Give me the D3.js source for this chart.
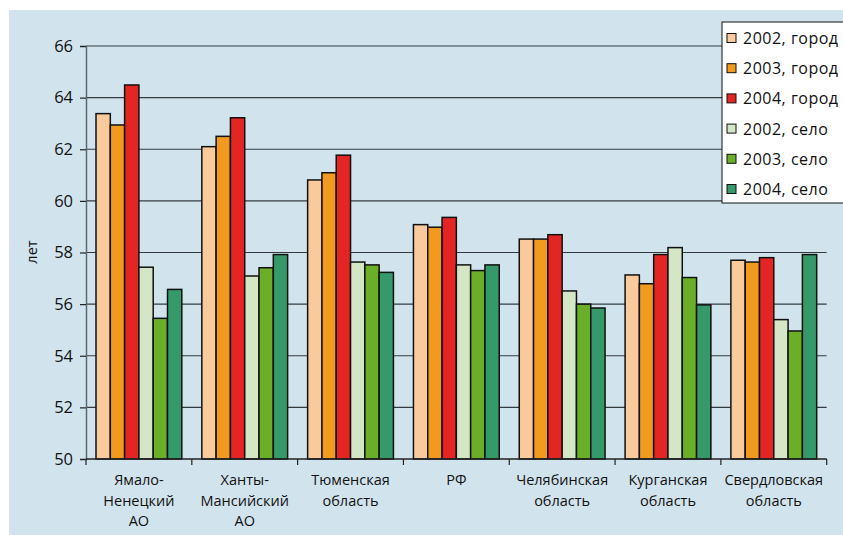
<!DOCTYPE html>
<html>
<head>
<meta charset="utf-8">
<script src="https://cdn.jsdelivr.net/npm/d3@7"></script>
<style>
  html, body { margin: 0; padding: 0; background: #ffffff; }
  svg { display: block; font-family: "Open Sans", "Noto Sans", sans-serif; }
</style>
</head>
<body>
<svg id="chart" width="843" height="535"></svg>
<script>
// Regions (categories) and label lines
const regions = [
  ["Ямало-", "Ненецкий", "АО"],
  ["Ханты-", "Мансийский", "АО"],
  ["Тюменская", "область"],
  ["РФ"],
  ["Челябинская", "область"],
  ["Курганская", "область"],
  ["Свердловская", "область"]
];

// Series names
const seriesNames = ["2002, город", "2003, город", "2004, город", "2002, село", "2003, село", "2004, село"];
const seriesColors = ["#f9cb9c", "#f29a1f", "#e32624", "#d3e6c6", "#6aaf27", "#35996a"];

// Life expectancy values, years (one array per series, ordered by region)
const city2002 = [63.38, 62.10, 60.81, 59.08, 58.52, 57.13, 57.70];
const city2003 = [62.94, 62.50, 61.09, 58.98, 58.52, 56.79, 57.63];
const city2004 = [64.49, 63.22, 61.77, 59.36, 58.69, 57.92, 57.80];
const rural2002 = [57.43, 57.09, 57.63, 57.52, 56.51, 58.19, 55.40];
const rural2003 = [55.45, 57.41, 57.52, 57.30, 56.00, 57.03, 54.96];
const rural2004 = [56.57, 57.92, 57.23, 57.52, 55.85, 55.97, 57.92];
const seriesValues = [city2002, city2003, city2004, rural2002, rural2003, rural2004];

const yTicks = [50, 52, 54, 56, 58, 60, 62, 64, 66];
const yLabel = "лет";

const svg = d3.select("#chart");
const W = 843, H = 535;
const plot = { left: 86, right: 826.7, top: 46, bottom: 459 };

// Background panel
svg.append("rect")
  .attr("x", 9).attr("y", 10)
  .attr("width", W - 9).attr("height", H - 10)
  .attr("fill", "#d1e4ed");

const x0 = d3.scaleBand()
  .domain(d3.range(regions.length))
  .range([plot.left, plot.right])
  .paddingInner(0)
  .paddingOuter(0);

const x1 = d3.scaleBand()
  .domain(d3.range(seriesNames.length))
  .range([0, x0.bandwidth()])
  .paddingOuter(0.7)
  .paddingInner(0);

const y = d3.scaleLinear().domain([50, 66]).range([plot.bottom, plot.top]);

// Horizontal gridlines
svg.append("g")
  .selectAll("line")
  .data(yTicks.filter(t => t > 50))
  .join("line")
  .attr("x1", plot.left).attr("x2", plot.right)
  .attr("y1", d => y(d)).attr("y2", d => y(d))
  .attr("stroke", "#333b40").attr("stroke-width", 1.2);

// Bars
const groups = svg.append("g")
  .selectAll("g")
  .data(regions.map((r, i) => i))
  .join("g")
  .attr("transform", i => `translate(${x0(i)},0)`);

groups.selectAll("rect")
  .data(i => seriesValues.map((vals, s) => ({ s, v: vals[i] })))
  .join("rect")
  .attr("x", d => x1(d.s))
  .attr("width", x1.bandwidth())
  .attr("y", d => y(d.v))
  .attr("height", d => y(50) - y(d.v))
  .attr("fill", d => seriesColors[d.s])
  .attr("stroke", "#111")
  .attr("stroke-width", 1.5);

// Y axis
const yAxis = svg.append("g")
  .attr("transform", `translate(${plot.left},0)`)
  .call(d3.axisLeft(y).tickValues(yTicks).tickSize(6).tickPadding(7).tickFormat(d3.format("d")));
yAxis.select(".domain").attr("stroke", "#5d6870").attr("stroke-width", 1.5);
yAxis.selectAll(".tick line").attr("stroke", "#222").attr("stroke-width", 1.2);
yAxis.selectAll(".tick text")
  .attr("font-size", 16.5).attr("fill", "#111")
  .attr("font-family", "'Open Sans', sans-serif");

// X axis (ticks at category boundaries)
const xBoundaries = d3.range(regions.length + 1).map(i => i === regions.length ? plot.right : x0(i));
svg.append("line")
  .attr("x1", plot.left).attr("x2", plot.right)
  .attr("y1", plot.bottom).attr("y2", plot.bottom)
  .attr("stroke", "#222").attr("stroke-width", 1.5);
svg.append("g")
  .selectAll("line")
  .data(xBoundaries)
  .join("line")
  .attr("x1", d => d).attr("x2", d => d)
  .attr("y1", plot.bottom).attr("y2", plot.bottom + 6)
  .attr("stroke", "#222").attr("stroke-width", 1.2);

// Category labels
svg.append("g")
  .selectAll("text")
  .data(regions.map((lines, i) => ({ lines, i })))
  .join("text")
  .attr("text-anchor", "middle")
  .attr("font-size", 14.5)
  .attr("fill", "#111")
  .each(function (d) {
    const t = d3.select(this);
    d.lines.forEach((line, k) => {
      t.append("tspan")
        .attr("x", x0(d.i) + x0.bandwidth() / 2)
        .attr("y", 485 + k * 20.5)
        .text(line);
    });
  });

// Y axis title
svg.append("text")
  .attr("transform", "translate(37,252) rotate(-90)")
  .attr("text-anchor", "middle")
  .attr("font-size", 14.5)
  .attr("fill", "#111")
  .text(yLabel);

// Legend
const legend = svg.append("g").attr("transform", "translate(722,22)");
legend.append("rect")
  .attr("x", 0).attr("y", 0)
  .attr("width", 130).attr("height", 181)
  .attr("fill", "#ffffff")
  .attr("stroke", "#111").attr("stroke-width", 1);
const items = legend.selectAll("g.item")
  .data(seriesNames.map((name, s) => ({ name, s })))
  .join("g")
  .attr("class", "item")
  .attr("transform", d => `translate(0,${16 + d.s * 30.2})`);
items.append("rect")
  .attr("x", 5).attr("y", -4.5)
  .attr("width", 9).attr("height", 9)
  .attr("fill", d => seriesColors[d.s])
  .attr("stroke", "#111").attr("stroke-width", 1);
items.append("text")
  .attr("x", 21).attr("y", 6)
  .attr("font-size", 16)
  .attr("letter-spacing", 0.5)
  .attr("fill", "#111")
  .text(d => d.name);
</script>
</body>
</html>
